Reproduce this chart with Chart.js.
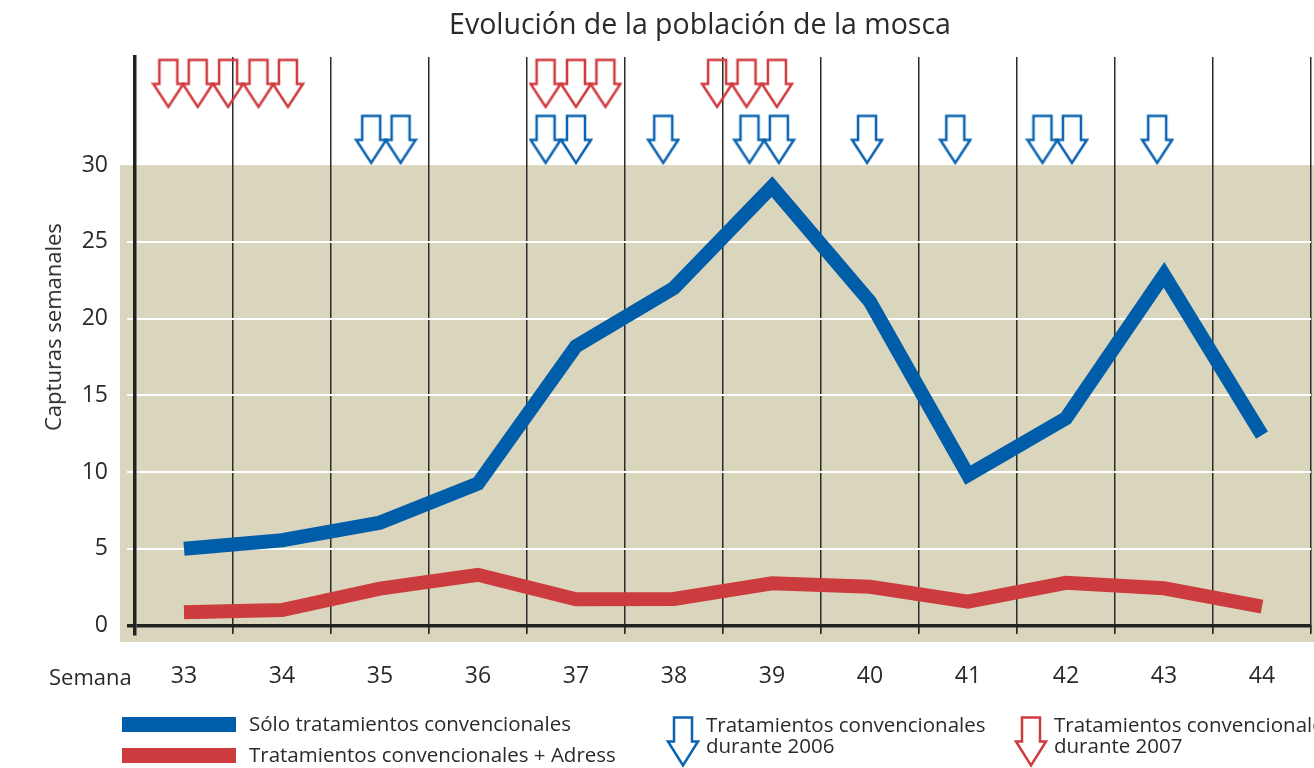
<!DOCTYPE html>
<html lang="es">
<head>
    <meta charset="UTF-8">
    <title>Evolución de la población de la mosca</title>
    <script src="https://cdn.jsdelivr.net/npm/chart.js@4.4.1/dist/chart.umd.min.js"></script>
    <style>
        body { margin: 0; background: #fff; font-family: "Open Sans", sans-serif; color: #2a2a2a; }
        #wrap { position: relative; width: 1314px; height: 768px; overflow: hidden; }
        #wrap canvas { position: absolute; left: 0; top: 0; }
        .txt { position: absolute; white-space: nowrap; line-height: 1; }
        .title { left: 700px; top: 9px; transform: translateX(-50%); font-size: 28.5px; }
        .ytitle { left: 52px; top: 327px; transform: translate(-50%, -50%) rotate(-90deg); font-size: 22px; }
        .semana { left: 49px; top: 665px; font-size: 22px; }
        .bar { position: absolute; left: 122px; width: 114px; height: 15px; }
        .leg { font-size: 20.5px; }
        .leg2 { font-size: 20.5px; line-height: 21px; }
        svg { position: absolute; }
    </style>
</head>
<body>
<div id="wrap">
    <canvas id="grafico" width="1314" height="768"></canvas>
    <div class="txt title">Evolución de la población de la mosca</div>
    <div class="txt ytitle">Capturas semanales</div>
    <div class="txt semana">Semana</div>

    <div class="bar" style="top:717px;background:#005da9"></div>
    <div class="txt leg" style="left:249px;top:713px">Sólo tratamientos convencionales</div>
    <div class="bar" style="top:748px;background:#cc3c3e"></div>
    <div class="txt leg" style="left:249px;top:744px">Tratamientos convencionales + Adress</div>

    <svg style="left:666px;top:715px" width="34" height="53"><polygon points="8,2.5 26,2.5 26,26.5 32,26.5 17,50.5 2,26.5 8,26.5" fill="none" stroke="#0a63b0" stroke-width="2.5"/></svg>
    <div class="txt leg2" style="left:706px;top:714px">Tratamientos convencionales<br>durante 2006</div>
    <svg style="left:1014px;top:715px" width="34" height="53"><polygon points="8,2.5 26,2.5 26,26.5 32,26.5 17,50.5 2,26.5 8,26.5" fill="none" stroke="#d03a3e" stroke-width="2.5"/></svg>
    <div class="txt leg2" style="left:1054px;top:714px">Tratamientos convencionales<br>durante 2007</div>
</div>

<script>
    // semanas y capturas semanales
    const semanas = [33, 34, 35, 36, 37, 38, 39, 40, 41, 42, 43, 44];
    const soloConvencionales = [5.0, 5.55, 6.7, 9.25, 18.2, 22.0, 28.6, 21.1, 9.8, 13.5, 22.85, 12.4];
    const conAdress = [0.85, 1.0, 2.4, 3.3, 1.7, 1.72, 2.75, 2.52, 1.55, 2.78, 2.42, 1.22];
    const marcasY = [0, 5, 10, 15, 20, 25, 30];
    const limitesSemana = [32.5, 33.5, 34.5, 35.5, 36.5, 37.5, 38.5, 39.5, 40.5, 41.5, 42.5, 43.5, 44.5];

    // fechas de tratamiento (en semanas) marcadas con flechas
    const tratamientos2006 = [34.91, 35.21, 36.69, 37.0, 37.89, 38.77, 39.07, 39.97, 40.87, 41.76, 42.06, 42.93];
    const tratamientos2007 = [32.84, 33.14, 33.45, 33.76, 34.06, 36.69, 37.0, 37.3, 38.44, 38.74, 39.05];
    const fila2006 = 31.68;
    const fila2007 = 35.33;

    const fuente = { family: '"Open Sans", sans-serif', size: 23 };

    function flecha(color) {
        const c = document.createElement('canvas');
        c.width = 34; c.height = 52;
        const g = c.getContext('2d');
        g.strokeStyle = color;
        g.lineWidth = 2.5;
        g.beginPath();
        g.moveTo(8, 2.5); g.lineTo(26, 2.5); g.lineTo(26, 26.5); g.lineTo(32, 26.5);
        g.lineTo(17, 49.5); g.lineTo(2, 26.5); g.lineTo(8, 26.5);
        g.closePath();
        g.stroke();
        return c;
    }

    // fondo beige de la zona 0-30
    const fondo = {
        id: 'fondo',
        beforeDraw(chart) {
            const ctx = chart.ctx;
            const y = chart.scales.y;
            ctx.save();
            ctx.fillStyle = '#fff';
            ctx.fillRect(0, 0, chart.width, chart.height);
            ctx.fillStyle = '#dad6bd';
            const top = y.getPixelForValue(30);
            ctx.fillRect(120, top, chart.width - 120, 642 - top);
            ctx.restore();
        }
    };

    // sin relleno lateral por las etiquetas
    const sinRelleno = s => { s.paddingLeft = 0; s.paddingRight = 0; };

    new Chart(document.getElementById('grafico'), {
        type: 'line',
        data: {
            datasets: [{
                label: 'Tratamientos convencionales durante 2007',
                data: tratamientos2007.map(x => ({ x: x, y: fila2007 })),
                showLine: false,
                pointStyle: flecha('#d03a3e'),
                pointRadius: 10
            }, {
                label: 'Tratamientos convencionales durante 2006',
                data: tratamientos2006.map(x => ({ x: x, y: fila2006 })),
                showLine: false,
                pointStyle: flecha('#0a63b0'),
                pointRadius: 10
            }, {
                label: 'Sólo tratamientos convencionales',
                data: semanas.map((s, i) => ({ x: s, y: soloConvencionales[i] })),
                borderColor: '#005da9',
                borderWidth: 14,
                borderCapStyle: 'butt',
                borderJoinStyle: 'miter',
                pointRadius: 0,
                tension: 0
            }, {
                label: 'Tratamientos convencionales + Adress',
                data: semanas.map((s, i) => ({ x: s, y: conAdress[i] })),
                borderColor: '#cc3c3e',
                borderWidth: 14,
                borderCapStyle: 'butt',
                borderJoinStyle: 'miter',
                pointRadius: 0,
                tension: 0
            }]
        },
        options: {
            responsive: false,
            animation: false,
            events: [],
            layout: { autoPadding: false, padding: { top: 57, right: 3, left: 0, bottom: 0 } },
            plugins: { legend: { display: false }, tooltip: { enabled: false } },
            scales: {
                x: {
                    type: 'linear', position: 'bottom', min: 32.5, max: 44.5,
                    afterBuildTicks: s => { s.ticks = semanas.map(v => ({ value: v })); },
                    afterFit: s => { s.height = 134; sinRelleno(s); },
                    ticks: { font: fuente, color: '#2a2a2a', padding: 29 },
                    grid: { display: false, drawTicks: false },
                    border: { display: false }
                },
                xg: {
                    type: 'linear', axis: 'x', position: { y: 0 }, min: 32.5, max: 44.5,
                    afterBuildTicks: s => { s.ticks = limitesSemana.map(v => ({ value: v })); },
                    afterFit: sinRelleno,
                    ticks: { display: false },
                    grid: { color: '#2b2b2b', lineWidth: 1.5, tickLength: 8 },
                    border: { display: false }
                },
                y: {
                    min: -0.56, max: 37.05,
                    afterBuildTicks: s => { s.ticks = marcasY.map(v => ({ value: v })); },
                    afterFit: s => { s.width = 135; },
                    ticks: { font: fuente, color: '#2a2a2a', padding: 19 },
                    grid: {
                        color: c => c.tick.value === 0 ? '#222' : (c.tick.value === 30 ? 'rgba(0,0,0,0)' : '#fff'),
                        lineWidth: c => c.tick.value === 0 ? 3.5 : 2,
                        tickLength: 8
                    },
                    border: { color: '#222', width: 3.5 }
                }
            }
        },
        plugins: [fondo]
    });
</script>
</body>
</html>
